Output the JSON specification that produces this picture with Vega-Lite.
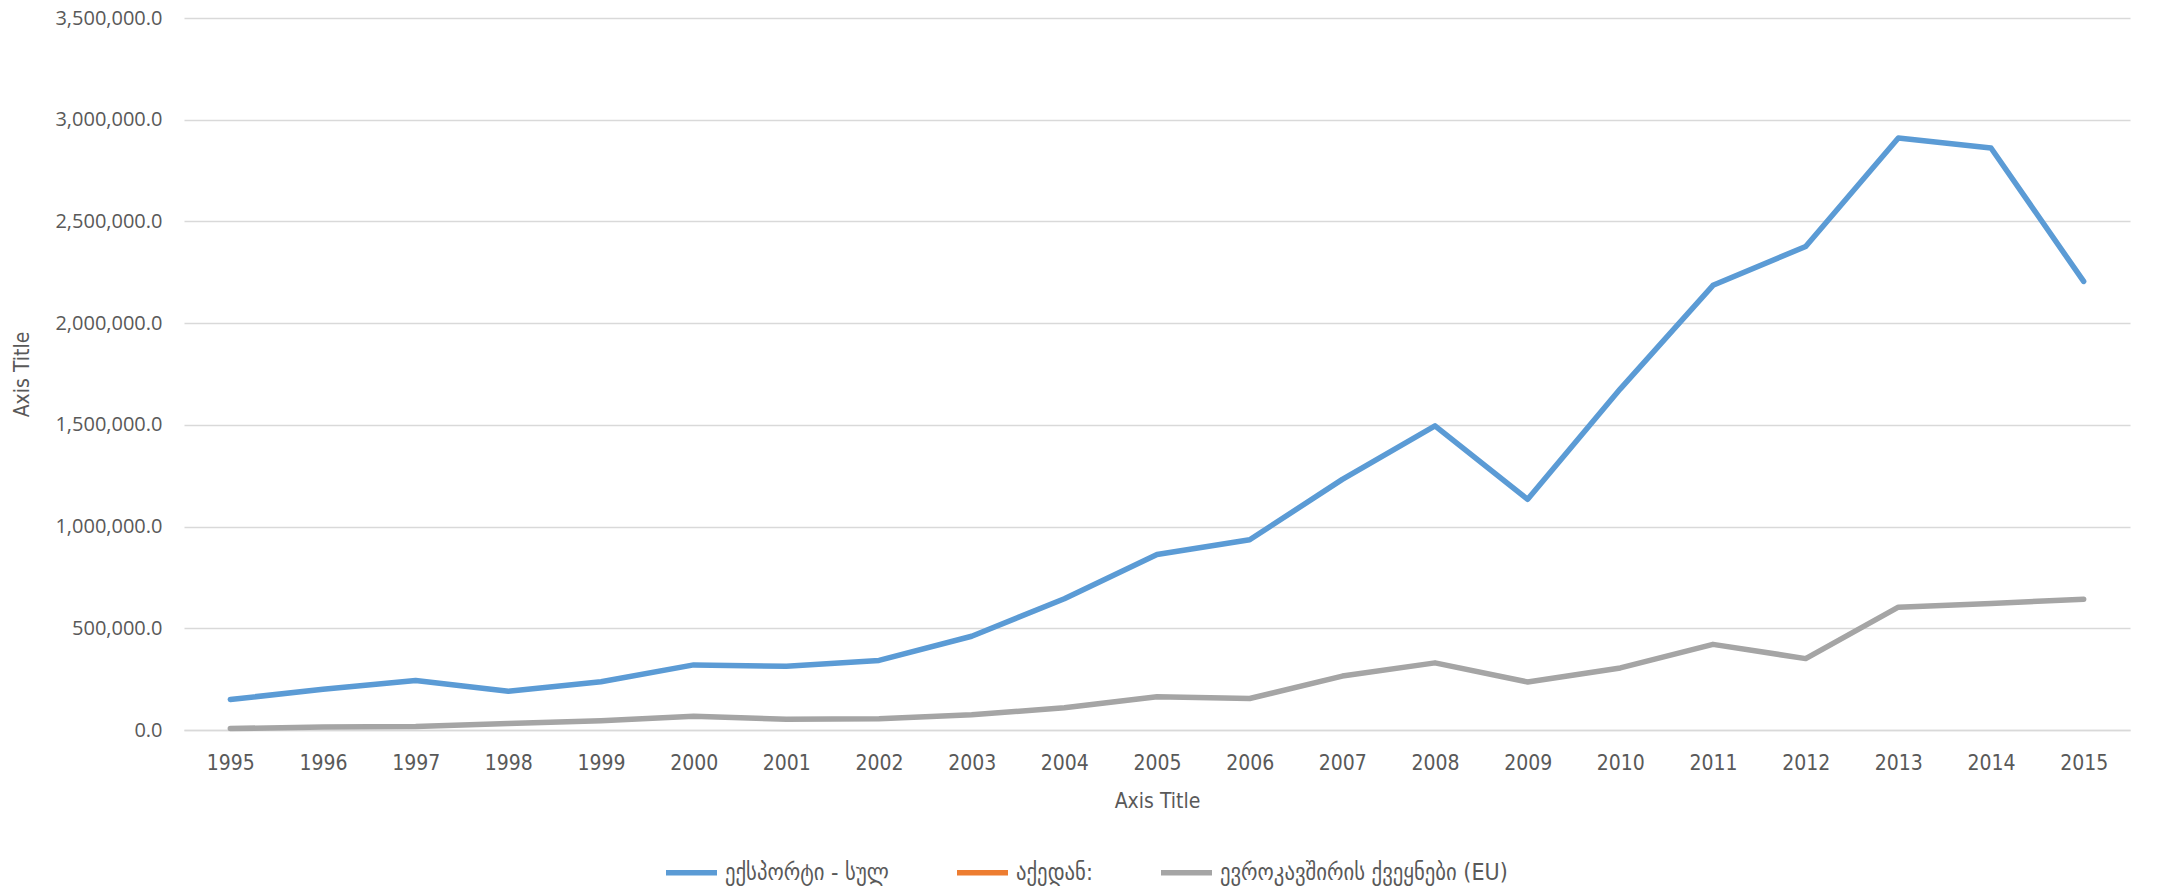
{
  "$schema": "https://vega.github.io/schema/vega-lite/v6.json",
  "width": 1946,
  "height": 712,
  "autosize": {"type": "none"},
  "padding": {"left": 184, "top": 18, "right": 35, "bottom": 164},
  "background": "white",
  "config": {"view": {"stroke": null}},
  "data": {
    "values": [
      {"year": "1995", "series": "ექსპორტი - სულ", "value": 150000},
      {"year": "1996", "series": "ექსპორტი - სულ", "value": 200000},
      {"year": "1997", "series": "ექსპორტი - სულ", "value": 243000},
      {"year": "1998", "series": "ექსპორტი - სულ", "value": 190000},
      {"year": "1999", "series": "ექსპორტი - სულ", "value": 237000},
      {"year": "2000", "series": "ექსპორტი - სულ", "value": 320000},
      {"year": "2001", "series": "ექსპორტი - სულ", "value": 313000},
      {"year": "2002", "series": "ექსპორტი - სულ", "value": 342000},
      {"year": "2003", "series": "ექსპორტი - სულ", "value": 461000},
      {"year": "2004", "series": "ექსპორტი - სულ", "value": 645000},
      {"year": "2005", "series": "ექსპორტი - სულ", "value": 863000},
      {"year": "2006", "series": "ექსპორტი - სულ", "value": 935000},
      {"year": "2007", "series": "ექსპორტი - სულ", "value": 1232000},
      {"year": "2008", "series": "ექსპორტი - სულ", "value": 1495000},
      {"year": "2009", "series": "ექსპორტი - სულ", "value": 1134000},
      {"year": "2010", "series": "ექსპორტი - სულ", "value": 1677000},
      {"year": "2011", "series": "ექსპორტი - სულ", "value": 2186000},
      {"year": "2012", "series": "ექსპორტი - სულ", "value": 2377000},
      {"year": "2013", "series": "ექსპორტი - სულ", "value": 2910000},
      {"year": "2014", "series": "ექსპორტი - სულ", "value": 2861000},
      {"year": "2015", "series": "ექსპორტი - სულ", "value": 2205000},
      {"year": "1995", "series": "აქედან:", "value": null},
      {"year": "1995", "series": "ევროკავშირის ქვეყნები (EU)", "value": 7000},
      {"year": "1996", "series": "ევროკავშირის ქვეყნები (EU)", "value": 15000},
      {"year": "1997", "series": "ევროკავშირის ქვეყნები (EU)", "value": 17000},
      {"year": "1998", "series": "ევროკავშირის ქვეყნები (EU)", "value": 32000},
      {"year": "1999", "series": "ევროკავშირის ქვეყნები (EU)", "value": 46000},
      {"year": "2000", "series": "ევროკავშირის ქვეყნები (EU)", "value": 67000},
      {"year": "2001", "series": "ევროკავშირის ქვეყნები (EU)", "value": 53000},
      {"year": "2002", "series": "ევროკავშირის ქვეყნები (EU)", "value": 55000},
      {"year": "2003", "series": "ევროკავშირის ქვეყნები (EU)", "value": 75000},
      {"year": "2004", "series": "ევროკავშირის ქვეყნები (EU)", "value": 109000},
      {"year": "2005", "series": "ევროკავშირის ქვეყნები (EU)", "value": 163000},
      {"year": "2006", "series": "ევროკავშირის ქვეყნები (EU)", "value": 155000},
      {"year": "2007", "series": "ევროკავშირის ქვეყნები (EU)", "value": 265000},
      {"year": "2008", "series": "ევროკავშირის ქვეყნები (EU)", "value": 330000},
      {"year": "2009", "series": "ევროკავშირის ქვეყნები (EU)", "value": 236000},
      {"year": "2010", "series": "ევროკავშირის ქვეყნები (EU)", "value": 305000},
      {"year": "2011", "series": "ევროკავშირის ქვეყნები (EU)", "value": 421000},
      {"year": "2012", "series": "ევროკავშირის ქვეყნები (EU)", "value": 351000},
      {"year": "2013", "series": "ევროკავშირის ქვეყნები (EU)", "value": 604000},
      {"year": "2014", "series": "ევროკავშირის ქვეყნები (EU)", "value": 622000},
      {"year": "2015", "series": "ევროკავშირის ქვეყნები (EU)", "value": 643000}
    ]
  },
  "mark": {"type": "line", "strokeWidth": 5.5, "strokeCap": "round", "strokeJoin": "round"},
  "encoding": {
    "x": {
      "field": "year",
      "type": "ordinal",
      "scale": {"type": "point", "padding": 0.5},
      "axis": {
        "title": "Axis Title",
        "titleFont": "DejaVu Sans Condensed",
        "titleFontSize": 21,
        "titleFontWeight": "normal",
        "titleColor": "#595959",
        "titlePadding": 17,
        "labelFont": "DejaVu Sans Condensed",
        "labelFontSize": 21,
        "labelColor": "#595959",
        "labelAngle": 0,
        "labelPadding": 22,
        "ticks": false,
        "domain": true,
        "domainColor": "#D9D9D9",
        "domainWidth": 1.5,
        "grid": false
      }
    },
    "y": {
      "field": "value",
      "type": "quantitative",
      "scale": {"domain": [0, 3500000], "nice": false},
      "axis": {
        "title": "Axis Title",
        "titleFont": "DejaVu Sans Condensed",
        "titleFontSize": 21,
        "titleFontWeight": "normal",
        "titleColor": "#595959",
        "titlePadding": 22,
        "labelFont": "Open Sans",
        "labelFontSize": 20,
        "labelColor": "#595959",
        "labelPadding": 22,
        "format": ",.1f",
        "values": [0, 500000, 1000000, 1500000, 2000000, 2500000, 3000000, 3500000],
        "ticks": false,
        "domain": false,
        "grid": true,
        "gridColor": "#D9D9D9",
        "gridWidth": 1.5
      }
    },
    "color": {
      "field": "series",
      "type": "nominal",
      "scale": {
        "domain": ["ექსპორტი - სულ", "აქედან:", "ევროკავშირის ქვეყნები (EU)"],
        "range": ["#5B9BD5", "#ED7D31", "#A5A5A5"]
      },
      "legend": {
        "title": null,
        "orient": "none",
        "direction": "horizontal",
        "legendX": 479,
        "legendY": 826,
        "symbolType": "stroke",
        "symbolSize": 2601,
        "symbolStrokeWidth": 5.5,
        "labelFont": "DejaVu Sans Condensed",
        "labelFontSize": 23,
        "labelColor": "#595959",
        "labelOffset": 5,
        "columnPadding": 57,
        "labelLimit": 500
      }
    }
  }
}
